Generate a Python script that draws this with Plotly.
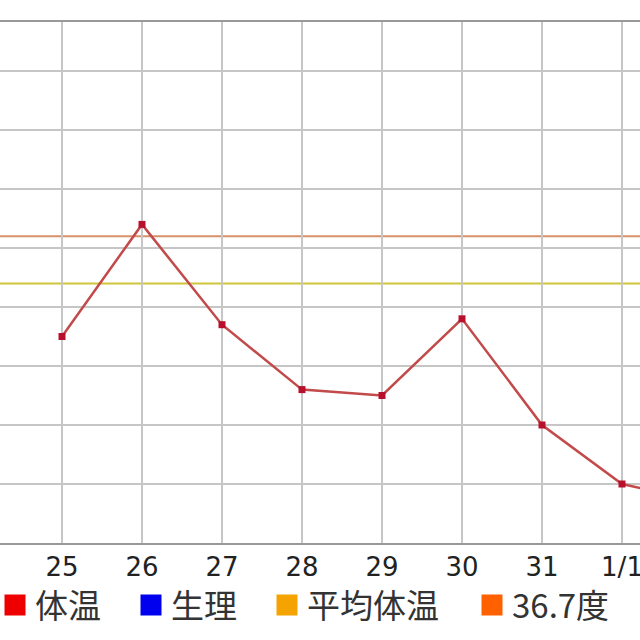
import plotly.graph_objects as go

# ---- data ----
day_labels = ["24", "25", "26", "27", "28", "29", "30", "31", "1/1", "1/2"]
day_index = [-1, 0, 1, 2, 3, 4, 5, 6, 7, 8]
temp_days = [0, 1, 2, 3, 4, 5, 6, 7, 8]
temps = [36.53, 36.72, 36.55, 36.44, 36.43, 36.56, 36.38, 36.28, 36.25]
avg_temp = 36.62
line_temp = 36.7

legend_names = ["体温", "生理", "平均体温", "36.7度"]
legend_colors = ["#ee0000", "#0000ee", "#f5a300", "#ff6000"]

fig = go.Figure()

# main temperature series
fig.add_trace(go.Scatter(
    x=temp_days, y=temps, mode="lines+markers",
    line=dict(color="#c24a4a", width=2.5),
    marker=dict(symbol="square", size=7, color="#b8102c"),
    showlegend=False, name="体温"))

# reference lines
fig.add_hline(y=line_temp, line=dict(color="#d89068", width=2), layer="below")
fig.add_hline(y=avg_temp, line=dict(color="#cfc43a", width=2), layer="below")

# legend entries (each in its own legend for placement)
legend_x_px = [-5, 131, 267, 472]
for i, (nm, col) in enumerate(zip(legend_names, legend_colors)):
    key = "legend" if i == 0 else f"legend{i+1}"
    fig.add_trace(go.Scatter(
        x=[None], y=[None], mode="markers", name=nm,
        marker=dict(symbol="square", size=16, color=col, line=dict(color=col, width=5)),
        legend=key, showlegend=True))

W, H = 640, 640
top, bottom = 22, 97
ph = H - top - bottom

legend_layout = {}
for i, xp in enumerate(legend_x_px):
    key = "legend" if i == 0 else f"legend{i+1}"
    legend_layout[key] = dict(
        x=xp / W, xanchor="left", y=-(605 - (H - bottom)) / ph, yanchor="middle",
        orientation="h", bgcolor="rgba(0,0,0,0)", borderwidth=0,
        font=dict(family="Noto Sans CJK JP", size=33, color="#333333"))

fig.update_layout(
    width=W, height=H,
    margin=dict(l=0, r=0, t=top, b=bottom, autoexpand=False),
    paper_bgcolor="white", plot_bgcolor="white",
    **legend_layout)

fig.update_xaxes(
    range=[-0.775, 7.225], tickvals=day_index, ticktext=day_labels,
    showgrid=True, gridcolor="#c6c6c6", gridwidth=2,
    showline=True, mirror=True, linecolor="#999999", linewidth=2,
    ticks="", zeroline=False, ticklabeloverflow="allow",
    tickfont=dict(family="DejaVu Sans", size=26, color="#222222"))

fig.update_yaxes(
    range=[36.18, 36.18 + 521 / 590], tick0=36.18, dtick=0.1,
    showgrid=True, gridcolor="#c6c6c6", gridwidth=2,
    showticklabels=False, showline=False, zeroline=False, ticks="")

fig.write_html("out.html",
               config={"displayModeBar": False},
               post_script="document.body.style.margin='0';document.body.style.overflow='hidden';")
